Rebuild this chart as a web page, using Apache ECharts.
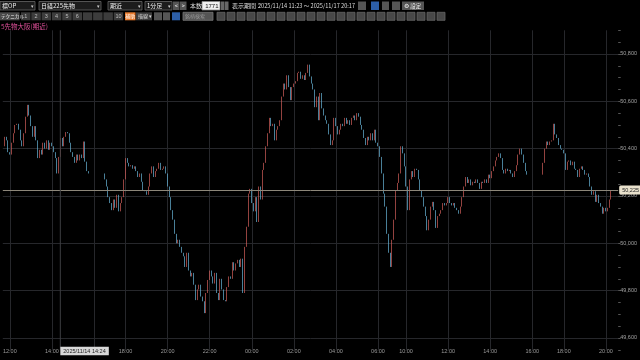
<!DOCTYPE html>
<html><head><meta charset="utf-8">
<script src="https://cdn.jsdelivr.net/npm/echarts@6/dist/echarts.min.js"></script>
<style>html,body{margin:0;padding:0;background:#000;}#c{width:640px;height:360px;}</style>
</head><body><div id="c"></div>
<script>
// ---- data (5-minute closes) ----
const friDayClose = [50410,50450,50435,50385,50375,50425,50465,50500,50505,50480,
50435,50410,50465,50535,50585,50540,50495,50450,50495,50435,
50360,50395,50375,50425,50400,50435,50395,50425,50410,50385,
50360,50295,50365,50445,50410,50450,50470,50465,50425,50385,
50365,50340,50375,50350,50375,50360,50430,50345,50305,50295];
const friNightClose = [50270,50240,50195,50170,50140,50185,50150,50205,50135,50170,
50195,50270,50360,50340,50325,50330,50315,50325,50305,50280,
50295,50260,50225,50220,50205,50240,50295,50325,50280,50305,
50315,50340,50310,
50315,50325,50295,50240,50195,50140,50100,50040,50000,50015,
49985,49960,49945,49900,49960,49885,49860,49875,49825,49760,
49805,49825,49775,49755,49705,49790,49845,49885,49860,49830,
49875,49790,49760,49850,49805,49760,49755,49815,49860,49850,
49920,49885,49915,49930,49900,49935,49790,49985,50070,50210,
50230,50170,50135,50195,50090,50240,50185,50310,50340,50410,
50465,50530,50495,50505,50435,50480,50495,50520,50620,50675,
50650,50710,50660,50605,50660,50675,50685,50720,50725,50695,
50710,50690,50720,50755,50705,50675,50650,50575,50620,50520,
50635,50570,50540,50520,50505,50460,50415,50435,50530,50495,
50460,50480,50505,50495,50530,50505,50520,50500,50530,50540,
50520,50550,50535,50500,50480,50445,50415,50450,50435,50465,
50435,50480,50425,50410];
const monDayClose = [50365,50295,50210,50155,50040,49960,49900,50015,50100,50225,
50255,50295,50410,50380,50325,50240,50140,50270,50305,50280,
50315,50310,50270,50225,50195,50155,50115,50055,50100,50155,
50175,50140,50065,50115,50125,50140,50170,50160,50170,50195,
50170,50160,50170,50150,50140,50125,50155,50195,50240,50280,
50255,50270,50245,50260,50255,50270,
50255,50230,50260,50255,50270,50255,50290,50275,50305,50325,
50350,50365,50380,50360,50310,50295,50315,50305,50310,50295,
50280,50305,50330,50375,50400,50375,50340,50305,50290];
const monNightClose = [50340,50400,50430,50415,50430,50435,50505,50460,50445,50415,
50400,50395,50380,50310,50345,50350,50330,50345,50315,50310,
50280,50315,50325,50310,50290,50295,50280,50240,50205,50220,
50175,50205,50170,50155,50125,50150,50135,50150,50185,50225];
const lastPrice = 50225;
const priceTickLabels = [49600, 49800, 50000, 50200, 50400, 50600, 50800];
const crosshairTime = '2025/11/14 14:24';

// session layout: start time, number of 5-min slots, closes
const BAR_MIN = 5;
const segments = [
  {start:'11:40', slots:50, values:friDayClose},
  {start:'15:50', slots:8, values:[]},
  {start:'17:00', slots:157, values:friNightClose},
  {start:'08:45', slots:85, values:monDayClose},
  {start:'15:50', slots:8, values:[]},
  {start:'17:00', slots:44, values:monNightClose}
];

function toMin(s){const p=s.split(':').map(Number);return p[0]*60+p[1];}
function fmtT(m){m=((m%1440)+1440)%1440;return String(Math.floor(m/60)).padStart(2,'0')+':'+String(m%60).padStart(2,'0');}

const categories = [];
const candles = [];
let prev = null;
segments.forEach(seg => {
  const s = toMin(seg.start);
  for (let k = 0; k < seg.slots; k++) {
    categories.push(fmtT(s + k*BAR_MIN));
    const c = seg.values[k];
    if (c === undefined) { candles.push('-'); continue; }
    const o = prev === null ? c : prev;
    candles.push([o, c, Math.min(o,c), Math.max(o,c)]);
    prev = c;
  }
});

const isMajor = (idx, val) => /^\d\d:00$/.test(val) && parseInt(val,10) % 2 === 0;
const fmtP = v => v.toLocaleString('en-US');
const UP = '#d35f5a', DN = '#68b6da';
const GRID = '#26272b';
const T = 'rgba(0,0,0,0)';

const chart = echarts.init(document.getElementById('c'), null, {renderer:'canvas', width:640, height:360});
chart.setOption({
  backgroundColor:'#000',
  animation:false,
  grid:{left:0, right:17, top:30.3, bottom:10.2},
  xAxis:{
    type:'category', data:categories, boundaryGap:false,
    axisLine:{show:false}, axisTick:{show:false},
    axisLabel:{interval:isMajor, color:'#9a9a9a', fontSize:5.5, fontFamily:'Liberation Sans', margin:1.5, verticalAlign:'middle'},
    splitLine:{show:true, interval:isMajor, lineStyle:{color:GRID, width:1}}
  },
  yAxis:{
    type:'value', position:'right', min:49550, max:50900, interval:50,
    axisLine:{show:false},
    axisTick:{show:true, length:2.5, lineStyle:{color:'#555'}},
    axisLabel:{formatter:v => priceTickLabels.includes(v) ? fmtP(v) : '', color:'#a0a0a0', fontSize:5.5, fontFamily:'Liberation Sans', margin:2},
    splitLine:{show:true, lineStyle:{color:[T, GRID, T, T], width:1}}
  },
  series:[{
    type:'candlestick', data:candles, barWidth:1.2,
    itemStyle:{color:UP, color0:DN, borderColor:UP, borderColor0:DN, borderWidth:0.7},
    markLine:{
      silent:true, symbol:'none', animation:false,
      lineStyle:{color:'#8d877a', width:1, type:'solid'},
      label:{show:true, position:'end', distance:1, formatter:fmtP(lastPrice), color:'#222', fontSize:5.5, fontFamily:'Liberation Sans',
        backgroundColor:'#e9e1cc', padding:[1.5,3,1.5,3], borderRadius:1.5},
      data:[{yAxis:lastPrice}]
    }
  }]
});

// crosshair position from the axis (14:24 lies 4/5 between the 14:20 and 14:25 slots)
const i20 = categories.indexOf('14:20');
const xa = chart.convertToPixel({xAxisIndex:0}, i20);
const xb = chart.convertToPixel({xAxisIndex:0}, i20+1);
const cx = xa + (xb - xa) * 0.8;

const G = [];
const FONT = '"Noto Sans CJK JP", sans-serif';
function box(x,y,w,h,fill,stroke){G.push({type:'rect',silent:true,z:10,shape:{x:x,y:y,width:w,height:h},style:{fill:fill,stroke:stroke||null,lineWidth:stroke?0.8:0}});}
function txt(x,y,t,fill,size,align,fam){G.push({type:'text',silent:true,z:11,x:x,y:y,style:{text:t,fill:fill,fontSize:size||6,fontFamily:fam||FONT,align:align||'left',verticalAlign:'middle'}});}

// toolbar row 1
const dd = [[0,35,'標OP'],[39,62,'日経225先物'],[108,34,'期近'],[145,27,'1分足']];
dd.forEach(d => { box(d[0],1.5,d[1],8.5,'#1c1c1c','#666'); txt(d[0]+2,6,d[2],'#eee',6); txt(d[0]+d[1]-1.5,6,'▾','#ccc',5,'right'); });
box(173,1.5,6.5,8.5,'#555'); txt(176.2,6,'<','#eee',5.5,'center');
box(180,1.5,6.5,8.5,'#555'); txt(183.2,6,'>','#eee',5.5,'center');
txt(190,6,'本数','#ddd',6);
box(202,1.5,18,8.5,'#f0f0f0','#888'); txt(218.5,6,'1771','#111',6,'right','Liberation Sans');
box(221,1.5,3.5,8.5,'#666'); box(225,1.5,3.5,8.5,'#666');
txt(232,6,'表示期間：','#ddd',6);
txt(258,6,'2025/11/14 11:23 ～ 2025/11/17 20:17','#ddd',5.6);
box(358,1.5,8,8.5,'#555'); box(371,1.5,8,8.5,'#2d5fa8'); box(382,1.5,7,8.5,'#555'); box(392,1.5,8,8.5,'#555');
box(402,1.5,22,8.5,'#555'); txt(404,6,'⚙ 設定','#eee',5.5);
// toolbar row 2
box(0,12.3,19.5,8,'#4a4a4a'); txt(1,16.4,'テクニカル','#eee',4.6);
['1','2','3','4','5','6','','','','10'].forEach((t,k) => { const x = 21 + k*10.3; box(x,12.3,9.5,8,'#3c3c3c'); if (t) txt(x+4.75,16.4,t,'#bbb',5.5,'center','Liberation Sans'); });
box(125,12.3,10.5,8,'#e87a2c'); txt(130.2,16.4,'補助','#fff',5,'center');
box(136,12.3,16,8,'#3c3c3c'); txt(138,16.4,'描線 ▾','#ddd',5);
box(154,12.3,8,8,'#555'); box(163,12.3,7,8,'#555'); box(172,12.3,8,8,'#2d5fa8');
box(183,12.3,30,8,'#555','#777'); txt(185,16.4,'銘柄検索','#999',5);
for (let x = 217; x <= 437; x += 10) box(x,12.3,8,8,'#484848','#666');
// title
txt(1,26.5,'5先物大阪(期近)','#e0509a',6.5);
// crosshair
G.push({type:'line',silent:true,z:5,shape:{x1:cx,y1:30.3,x2:cx,y2:349.8},style:{stroke:'#3d3e42',lineWidth:1}});
box(cx,346.8,48.5,8.5,'#d8d8d8'); txt(cx+24.2,351.1,crosshairTime,'#222',5.5,'center','Liberation Sans');

chart.setOption({graphic:G});
</script>
</body></html>
